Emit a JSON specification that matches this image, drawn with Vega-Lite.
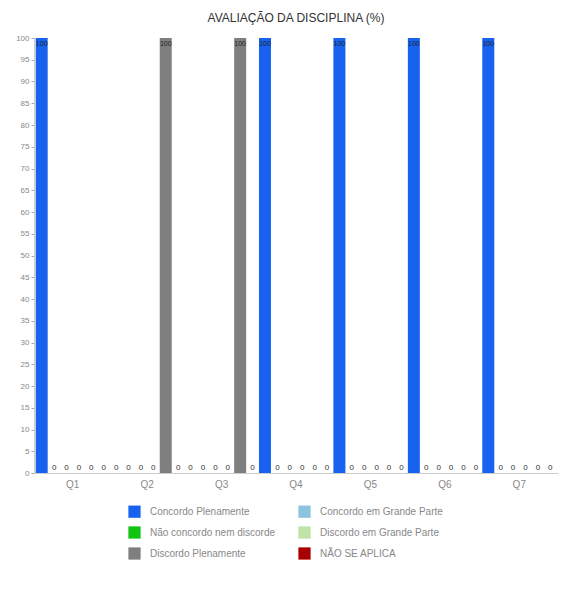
{
  "$schema": "https://vega.github.io/schema/vega-lite/v6.json",
  "autosize": {"type": "none"},
  "padding": {"left": 34, "top": 38, "right": 3, "bottom": 120},
  "width": 524,
  "height": 435,
  "background": "white",
  "config": {
    "view": {"stroke": null},
    "font": "Liberation Sans"
  },
  "title": {
    "text": "AVALIAÇÃO DA DISCIPLINA (%)",
    "fontSize": 12,
    "fontWeight": "normal",
    "color": "#333333",
    "anchor": "middle",
    "offset": 9
  },
  "data": {
    "values": [
      {"q": "Q1", "cat": "Concordo Plenamente", "v": 100},
      {"q": "Q1", "cat": "Concordo em Grande Parte", "v": 0},
      {"q": "Q1", "cat": "Não concordo nem discorde", "v": 0},
      {"q": "Q1", "cat": "Discordo em Grande Parte", "v": 0},
      {"q": "Q1", "cat": "Discordo Plenamente", "v": 0},
      {"q": "Q1", "cat": "NÃO SE APLICA", "v": 0},
      {"q": "Q2", "cat": "Concordo Plenamente", "v": 0},
      {"q": "Q2", "cat": "Concordo em Grande Parte", "v": 0},
      {"q": "Q2", "cat": "Não concordo nem discorde", "v": 0},
      {"q": "Q2", "cat": "Discordo em Grande Parte", "v": 0},
      {"q": "Q2", "cat": "Discordo Plenamente", "v": 100},
      {"q": "Q2", "cat": "NÃO SE APLICA", "v": 0},
      {"q": "Q3", "cat": "Concordo Plenamente", "v": 0},
      {"q": "Q3", "cat": "Concordo em Grande Parte", "v": 0},
      {"q": "Q3", "cat": "Não concordo nem discorde", "v": 0},
      {"q": "Q3", "cat": "Discordo em Grande Parte", "v": 0},
      {"q": "Q3", "cat": "Discordo Plenamente", "v": 100},
      {"q": "Q3", "cat": "NÃO SE APLICA", "v": 0},
      {"q": "Q4", "cat": "Concordo Plenamente", "v": 100},
      {"q": "Q4", "cat": "Concordo em Grande Parte", "v": 0},
      {"q": "Q4", "cat": "Não concordo nem discorde", "v": 0},
      {"q": "Q4", "cat": "Discordo em Grande Parte", "v": 0},
      {"q": "Q4", "cat": "Discordo Plenamente", "v": 0},
      {"q": "Q4", "cat": "NÃO SE APLICA", "v": 0},
      {"q": "Q5", "cat": "Concordo Plenamente", "v": 100},
      {"q": "Q5", "cat": "Concordo em Grande Parte", "v": 0},
      {"q": "Q5", "cat": "Não concordo nem discorde", "v": 0},
      {"q": "Q5", "cat": "Discordo em Grande Parte", "v": 0},
      {"q": "Q5", "cat": "Discordo Plenamente", "v": 0},
      {"q": "Q5", "cat": "NÃO SE APLICA", "v": 0},
      {"q": "Q6", "cat": "Concordo Plenamente", "v": 100},
      {"q": "Q6", "cat": "Concordo em Grande Parte", "v": 0},
      {"q": "Q6", "cat": "Não concordo nem discorde", "v": 0},
      {"q": "Q6", "cat": "Discordo em Grande Parte", "v": 0},
      {"q": "Q6", "cat": "Discordo Plenamente", "v": 0},
      {"q": "Q6", "cat": "NÃO SE APLICA", "v": 0},
      {"q": "Q7", "cat": "Concordo Plenamente", "v": 100},
      {"q": "Q7", "cat": "Concordo em Grande Parte", "v": 0},
      {"q": "Q7", "cat": "Não concordo nem discorde", "v": 0},
      {"q": "Q7", "cat": "Discordo em Grande Parte", "v": 0},
      {"q": "Q7", "cat": "Discordo Plenamente", "v": 0},
      {"q": "Q7", "cat": "NÃO SE APLICA", "v": 0}
    ]
  },
  "encoding": {
    "x": {
      "field": "q",
      "type": "nominal",
      "scale": {"paddingInner": 0, "paddingOuter": 0.02},
      "axis": {
        "title": null,
        "labelAngle": 0,
        "labelFontSize": 10,
        "labelColor": "#888888",
        "labelPadding": 6,
        "ticks": false,
        "domainColor": "#cccccc"
      }
    },
    "xOffset": {
      "field": "cat",
      "type": "nominal",
      "sort": ["Concordo Plenamente", "Concordo em Grande Parte", "Não concordo nem discorde", "Discordo em Grande Parte", "Discordo Plenamente", "NÃO SE APLICA"],
      "scale": {"paddingInner": 0, "paddingOuter": 0}
    },
    "y": {
      "field": "v",
      "type": "quantitative",
      "scale": {"domain": [0, 100], "nice": false},
      "axis": {
        "title": null,
        "values": [0,5,10,15,20,25,30,35,40,45,50,55,60,65,70,75,80,85,90,95,100],
        "grid": false,
        "labelFontSize": 8,
        "labelColor": "#888888",
        "tickColor": "#aaaaaa",
        "tickSize": 3,
        "labelPadding": 2,
        "domainColor": "#cccccc"
      }
    }
  },
  "layer": [
    {
      "mark": {"type": "bar", "width": 12},
      "encoding": {
        "color": {
          "field": "cat",
          "type": "nominal",
          "scale": {
            "domain": ["Concordo Plenamente", "Concordo em Grande Parte", "Não concordo nem discorde", "Discordo em Grande Parte", "Discordo Plenamente", "NÃO SE APLICA"],
            "range": ["#1763f0", "#8cc4e0", "#12c412", "#bfe3a6", "#7f7f7f", "#a80000"]
          },
          "legend": {
            "title": null,
            "orient": "none",
            "legendX": 94,
            "legendY": 467,
            "direction": "horizontal",
            "columns": 2,
            "symbolType": "square",
            "symbolSize": 150,
            "symbolStrokeWidth": 0,
            "labelFontSize": 10,
            "labelColor": "#888888",
            "labelOffset": 9,
            "rowPadding": 8,
            "columnPadding": 22,
            "labelLimit": 300
          }
        }
      }
    },
    {
      "transform": [{"filter": "datum.v > 0"}],
      "mark": {"type": "text", "baseline": "top", "dy": 2, "fontSize": 7, "color": "#222222"},
      "encoding": {"text": {"field": "v", "type": "quantitative"}}
    },
    {
      "transform": [{"filter": "datum.v == 0"}],
      "mark": {"type": "text", "baseline": "bottom", "dy": -1, "fontSize": 8, "color": "#333333"},
      "encoding": {"text": {"field": "v", "type": "quantitative"}}
    }
  ]
}
